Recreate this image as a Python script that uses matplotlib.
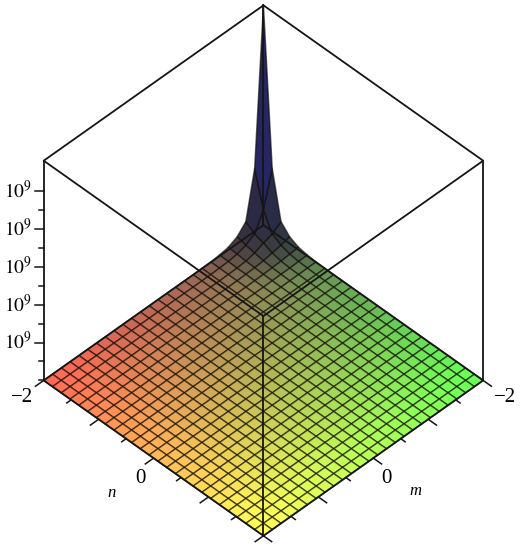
import numpy as np
import matplotlib
matplotlib.use('Agg')
import matplotlib.pyplot as plt
from mpl_toolkits.mplot3d import proj3d

plt.rcParams['font.family'] = ['Liberation Serif', 'DejaVu Sans']
plt.rcParams['mathtext.fontset'] = 'stix'

# surface heights near the m=n=-2 corner, in units of 1e9
# everything further out sits on the floor
corner_heights = [
    [5.80, 1.66, 0.42, 0.18, 0.07, 0.03, 0.01, 0.005],
    [1.66, 0.74, 0.26, 0.12, 0.05, 0.02, 0.01, 0.003],
    [0.42, 0.26, 0.18, 0.08, 0.03, 0.01, 0.005, 0.0],
    [0.18, 0.12, 0.08, 0.04, 0.02, 0.01, 0.003, 0.0],
    [0.07, 0.05, 0.03, 0.02, 0.01, 0.005, 0.0, 0.0],
    [0.03, 0.02, 0.01, 0.01, 0.005, 0.0, 0.0, 0.0],
    [0.01, 0.01, 0.005, 0.003, 0.0, 0.0, 0.0, 0.0],
    [0.005, 0.003, 0.0, 0.0, 0.0, 0.0, 0.0, 0.0],
]
grid_m = np.linspace(-2, 2, 26)
grid_n = np.linspace(-2, 2, 26)
xy_ticks_major = [-2, -1, 0, 1, 2]
xy_ticks_minor = [-1.5, -0.5, 0.5, 1.5]
z_ticks_major = [1, 2, 3, 4, 5]
z_ticks_minor = [0, 0.5, 1.5, 2.5, 3.5, 4.5]
z_top = 5.8

M, N = np.meshgrid(grid_m, grid_n)
Z = np.zeros_like(M)
corner = np.array(corner_heights)
Z[:corner.shape[0], :corner.shape[1]] = corner

# mean height of each cell, last row/column just repeats
H = Z.copy()
H[:-1, :-1] = (Z[:-1, :-1] + Z[1:, :-1] + Z[:-1, 1:] + Z[1:, 1:]) / 4

# colours: red follows m, green follows n, dark and then blue with height
step = grid_m[1] - grid_m[0]
tm = (M + 2 + step / 2) / 4
tn = (N + 2 + step / 2) / 4
fade = 0.35 + 0.65 / (1 + H / 0.05)
colors = np.zeros(M.shape + (4,))
colors[..., 0] = np.minimum(1, (0.40 + 0.64 * tm) * fade)
colors[..., 1] = np.minimum(1, (0.40 + 0.64 * tn) * fade)
colors[..., 2] = 0.34 - 0.12 * H / (H + 0.05) + 0.16 * np.minimum(1, H / 2.4)
colors[..., 3] = 1

fig = plt.figure(figsize=(5.2, 5.5), dpi=100)
# 3d axes stay square, so make them tall enough to hold the whole box
ax = fig.add_axes([-19 / 520, -3 / 550, 550 / 520, 1], projection='3d', computed_zorder=False)
ax.set_proj_type('ortho')
ax.view_init(elev=45, azim=45)
ax.set_box_aspect((1, 1, 1), zoom=0.950)
ax.set_xlim(-2, 2)
ax.set_ylim(-2, 2)
ax.set_zlim(0, z_top)
ax.set_axis_off()

surf = ax.plot_surface(M, N, Z, rstride=1, cstride=1, facecolors=colors,
                       shade=False, zorder=1)
surf.set_edgecolor((0.05, 0.03, 0, 0.62))
surf.set_linewidth(1.05)

# box
line = dict(color='#151515', lw=1.3, zorder=3)
for a, b in [(-2, 2), (2, 2), (2, -2), (-2, -2)]:
    ax.plot([a, a], [b, b], [0, z_top], **line)
for z in [0, z_top]:
    ax.plot([-2, 2, 2, -2, -2], [-2, -2, 2, 2, -2], [z] * 5, **line)

# ticks along the two front floor edges and the left vertical edge
tick = dict(color='#151515', lw=1.1, zorder=3)
for t in xy_ticks_major + xy_ticks_minor:
    size = 0.15 if t in xy_ticks_major else 0.08
    ax.plot([2, 2 + size], [t, t], [0, 0], **tick)
    ax.plot([t, t], [2, 2 + size], [0, 0], **tick)
for z in z_ticks_major + z_ticks_minor:
    size = 0.075 if z in z_ticks_major else 0.045
    ax.plot([2, 2 + size], [-2, -2 - size], [z, z], **tick)


def label(m, n, z, s, **kw):
    # flat text placed at the projected spot of a 3d point
    px, py, _ = proj3d.proj_transform(m, n, z, ax.get_proj())
    ax.text2D(px, py, s, ha='center', va='center', transform=ax.transData, **kw)


label(2.42, -1.98, 0, '\u22122', fontsize=15)
label(-1.98, 2.42, 0, '\u22122', fontsize=15)
label(2.38, 0.14, 0, '0', fontsize=15)
label(0.14, 2.38, 0, '0', fontsize=15)
label(2.835, 0.065, 0, 'n', fontsize=12, style='italic')
label(0.04, 2.81, 0, 'm', fontsize=12, style='italic')
for z in z_ticks_major:
    label(2.236, -2.236, z, r'$10^{9}$', fontsize=14)

fig.savefig('out.png', dpi=100)
